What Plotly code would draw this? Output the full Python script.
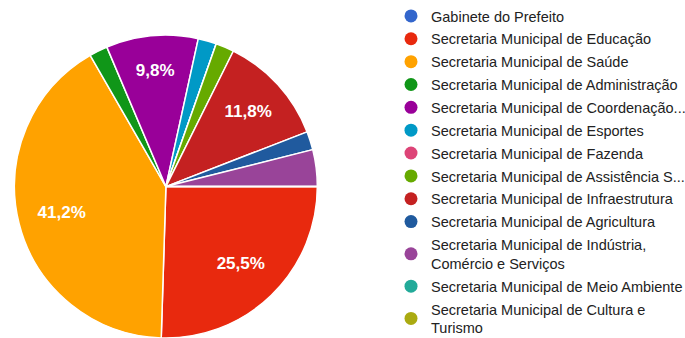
import plotly.graph_objects as go

categories = [
    "Gabinete do Prefeito",
    "Secretaria Municipal de Educação",
    "Secretaria Municipal de Saúde",
    "Secretaria Municipal de Administração",
    "Secretaria Municipal de Coordenação...",
    "Secretaria Municipal de Esportes",
    "Secretaria Municipal de Fazenda",
    "Secretaria Municipal de Assistência S...",
    "Secretaria Municipal de Infraestrutura",
    "Secretaria Municipal de Agricultura",
    "Secretaria Municipal de Indústria,<br>Comércio e Serviços",
    "Secretaria Municipal de Meio Ambiente",
    "Secretaria Municipal de Cultura e<br>Turismo",
]
counts = [0, 13, 21, 1, 5, 1, 0, 1, 6, 1, 2, 0, 0]
colors = ["#3366cc", "#e8290e", "#ffa200", "#109618", "#990099", "#0099c6",
          "#dd4477", "#66aa00", "#c42121", "#205a9e", "#994499", "#22aa99", "#aaaa11"]

total = sum(counts)
labels_txt = [(f"{c / total * 100:.1f}%".replace(".", ",") if c / total > 0.05 else "") for c in counts]

pie_domain = dict(x=[0.0204, 0.464], y=[0.0, 0.896])

fig = go.Figure()
fig.add_trace(go.Pie(
    labels=categories,
    values=counts,
    textinfo="none",
    marker=dict(colors=colors, line=dict(color="white", width=1.5)),
    sort=False,
    direction="clockwise",
    rotation=90,
    showlegend=False,
    domain=pie_domain,
    hoverinfo="label+percent",
))
# transparent ring overlay used only to place the percentage labels further out
fig.add_trace(go.Pie(
    labels=categories,
    values=counts,
    hole=0.42,
    text=labels_txt,
    texttemplate="%{text}",
    textposition="inside",
    insidetextorientation="horizontal",
    textfont=dict(family="Liberation Sans, Arial", size=17, color="white", weight="bold"),
    marker=dict(colors=["rgba(0,0,0,0)"] * len(counts), line=dict(width=0)),
    sort=False,
    direction="clockwise",
    rotation=90,
    showlegend=False,
    domain=pie_domain,
    hoverinfo="skip",
))

for i, (name, col) in enumerate(zip(categories, colors)):
    fig.add_trace(go.Scatter(
        x=[None], y=[None], mode="markers", name=name, legendgroup=f"g{i}",
        marker=dict(symbol="circle", size=13, color=col),
    ))

fig.update_layout(
    width=685, height=338,
    margin=dict(l=0, r=0, t=0, b=0, autoexpand=False),
    paper_bgcolor="white", plot_bgcolor="white",
    xaxis=dict(visible=False), yaxis=dict(visible=False),
    legend=dict(x=391 / 685, y=1.0, xanchor="left", yanchor="top",
                font=dict(family="Liberation Sans, Arial", size=14.5, color="#222222"),
                tracegroupgap=1.0, itemclick=False),
)

fig.write_html("out.html")
